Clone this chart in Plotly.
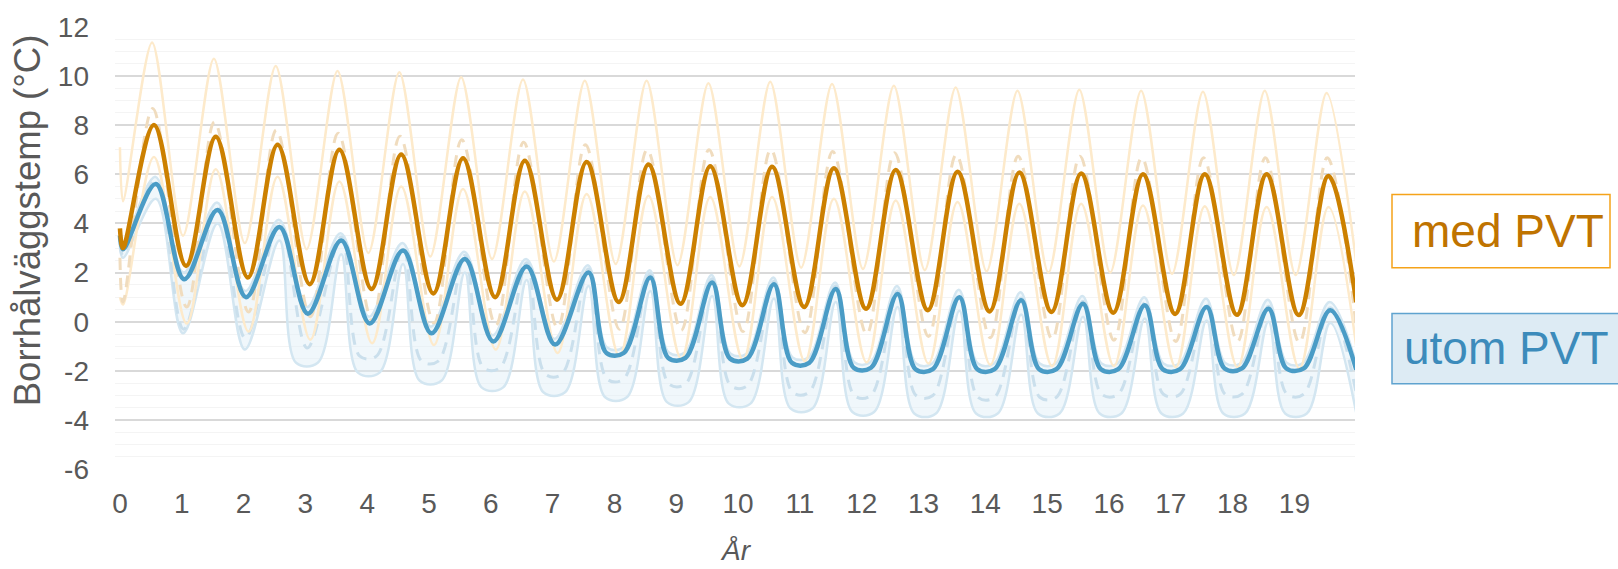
import plotly.graph_objects as go

years = list(range(20))
year_labels = [str(y) for y in years]
temp_ticks = list(range(-6, 13, 2))
temp_labels = [str(v) for v in temp_ticks]

# ---- Borehole wall temperature, "med PVT" (orange family) ----
med_start, med_end = 3.8, 0.8
med_trough = [3.0, 2.27, 1.8, 1.53, 1.33, 1.15, 1.0, 0.9, 0.8, 0.73,
              0.67, 0.6, 0.53, 0.47, 0.42, 0.4, 0.37, 0.32, 0.28, 0.27]
med_peak = [8.0, 7.53, 7.2, 7.0, 6.8, 6.65, 6.55, 6.5, 6.4, 6.33,
            6.3, 6.24, 6.17, 6.1, 6.07, 6.03, 6.0, 6.0, 6.0, 5.93]

med_hi_start, med_hi_end = 7.1, 2.4
med_hi_trough = [4.9, 3.5, 3.2, 2.95, 2.8, 2.65, 2.55, 2.45, 2.35, 2.3,
                 2.25, 2.2, 2.15, 2.1, 2.05, 2.0, 2.0, 1.95, 1.9, 1.9]
med_hi_peak = [11.36, 10.7, 10.4, 10.2, 10.15, 9.95, 9.85, 9.8, 9.8, 9.7,
               9.76, 9.67, 9.6, 9.53, 9.4, 9.44, 9.4, 9.36, 9.4, 9.3]

med_lo_start, med_lo_end = 1.0, -1.0
med_lo_trough = [0.7, -0.07, -0.4, -0.73, -0.87, -0.95, -1.13, -1.27, -1.4, -1.5,
                 -1.55, -1.6, -1.65, -1.7, -1.75, -1.8, -1.8, -1.85, -1.85, -1.9]
med_lo_peak = [6.7, 6.2, 5.9, 5.7, 5.5, 5.4, 5.3, 5.2, 5.13, 5.07,
               5.07, 5.0, 4.93, 4.87, 4.8, 4.8, 4.73, 4.7, 4.67, 4.67]

med_alt_start, med_alt_end = 2.6, -0.2
med_alt_trough = [0.8, 0.6, 0.4, 0.2, 0.05, -0.05, -0.15, -0.25, -0.3, -0.35,
                  -0.4, -0.45, -0.5, -0.6, -0.65, -0.7, -0.75, -0.8, -0.8, -0.85]
med_alt_peak = [8.67, 8.13, 7.8, 7.67, 7.55, 7.4, 7.3, 7.2, 7.0, 7.0,
                7.0, 6.93, 6.87, 6.8, 6.73, 6.73, 6.67, 6.67, 6.67, 6.67]

# ---- Borehole wall temperature, "utom PVT" (blue family) ----
utom_start, utom_end = 3.5, -1.95
utom_trough = [2.95, 1.73, 1.0, 0.33, -0.07, -0.47, -0.8, -0.93, -1.27, -1.47,
               -1.5, -1.67, -1.87, -1.93, -1.93, -1.93, -1.93, -1.93, -1.9, -1.9]
utom_peak = [5.6, 4.55, 3.85, 3.3, 2.9, 2.55, 2.25, 2.0, 1.8, 1.6,
             1.53, 1.33, 1.13, 1.0, 0.87, 0.73, 0.67, 0.6, 0.53, 0.47]

utom_hi_start, utom_hi_end = 3.6, -1.7
utom_hi_trough = [3.15, 2.0, 1.25, 0.6, 0.2, -0.2, -0.55, -0.7, -1.05, -1.25,
                  -1.3, -1.45, -1.65, -1.7, -1.7, -1.7, -1.7, -1.7, -1.68, -1.68]
utom_hi_peak = [5.9, 4.85, 4.15, 3.6, 3.2, 2.85, 2.55, 2.3, 2.1, 1.9,
                1.8, 1.6, 1.45, 1.3, 1.2, 1.05, 1.0, 0.95, 0.9, 0.8]

utom_lo_start, utom_lo_end = 3.0, -3.7
utom_lo_trough = [2.6, -0.47, -1.13, -1.67, -2.07, -2.4, -2.67, -2.87, -3.07, -3.27,
                  -3.33, -3.53, -3.67, -3.73, -3.73, -3.73, -3.73, -3.73, -3.73, -3.73]
utom_lo_peak = [5.0, 4.0, 3.3, 2.75, 2.35, 2.0, 1.7, 1.45, 1.25, 1.05,
                0.95, 0.8, 0.6, 0.45, 0.3, 0.2, 0.13, 0.05, 0.0, -0.05]

utom_alt_start, utom_alt_end = 3.2, -2.9
utom_alt_trough = [2.7, -0.3, -0.67, -1.07, -1.4, -1.6, -1.87, -2.13, -2.33, -2.53,
                   -2.6, -2.87, -3.0, -3.0, -3.07, -3.07, -2.95, -2.95, -2.95, -2.95]
utom_alt_peak = [5.75, 4.7, 4.0, 3.45, 3.05, 2.7, 2.4, 2.15, 1.95, 1.75,
                 1.65, 1.45, 1.25, 1.1, 0.97, 0.83, 0.77, 0.7, 0.63, 0.57]


def seasonal(start, troughs, peaks, end, t_trough, t_peak, flat=None, flat_from=1):
    """Yearly cycle through trough/peak readings (time in years).

    From year `flat_from` on, the winter minimum is held over the span `flat`.
    """
    xs, ys = [0.0], [start]
    for k in years:
        if k == 0:
            xs.append(0.05)
            ys.append(troughs[0])
        elif flat and k >= flat_from:
            xs += [k + flat[0], k + flat[1]]
            ys += [troughs[k], troughs[k]]
        else:
            xs.append(k + t_trough)
            ys.append(troughs[k])
        xs.append(k + t_peak)
        ys.append(peaks[k])
    xs.append(20.0)
    ys.append(end)
    return xs, ys


ORANGE = "#CC8000"
BLUE = "#4A9CC6"
ORANGE_LIGHT = "#FDEACB"
ORANGE_DASH = "#F0DCBE"
BLUE_LIGHT = "#D3E6F1"
BLUE_DASH = "#CADFEC"
BLUE_FILL = "rgba(222,238,247,0.45)"

fig = go.Figure()


def add_line(xy, color, width, dash="solid", fill=None, fillcolor=None, smoothing=1.0):
    fig.add_trace(go.Scatter(
        x=xy[0], y=xy[1], mode="lines",
        line=dict(color=color, width=width, dash=dash, shape="spline", smoothing=smoothing),
        fill=fill, fillcolor=fillcolor, hoverinfo="skip", showlegend=False))


# blue band with its bounds
add_line(seasonal(utom_lo_start, utom_lo_trough, utom_lo_peak, utom_lo_end, 0.02, 0.58,
                  flat=(-0.15, 0.2), flat_from=3),
         BLUE_LIGHT, 2.5)
add_line(seasonal(utom_hi_start, utom_hi_trough, utom_hi_peak, utom_hi_end, 0.03, 0.57,
                  flat=(-0.12, 0.14), flat_from=8),
         BLUE_LIGHT, 2.5, fill="tonexty", fillcolor=BLUE_FILL)
add_line(seasonal(utom_alt_start, utom_alt_trough, utom_alt_peak, utom_alt_end, 0.03, 0.58,
                  flat=(-0.12, 0.15), flat_from=4),
         BLUE_DASH, 3, dash="12px,8px")

# orange bounds and alternative
add_line(seasonal(med_hi_start, med_hi_trough, med_hi_peak, med_hi_end, 0.02, 0.52),
         ORANGE_LIGHT, 2.5, smoothing=0.8)
add_line(seasonal(med_lo_start, med_lo_trough, med_lo_peak, med_lo_end, 0.08, 0.55),
         ORANGE_LIGHT, 2.5)
add_line(seasonal(med_alt_start, med_alt_trough, med_alt_peak, med_alt_end, 0.08, 0.53),
         ORANGE_DASH, 3, dash="12px,8px")

# main curves
add_line(seasonal(utom_start, utom_trough, utom_peak, utom_end, 0.04, 0.58,
                  flat=(-0.13, 0.15), flat_from=8),
         BLUE, 4.5)
add_line(seasonal(med_start, med_trough, med_peak, med_end, 0.07, 0.55),
         ORANGE, 4.5)

FONT = "Liberation Sans, Arial, sans-serif"
TICK = "#595959"

# plot area in pixels
PL, PR, PT, PB = 115, 1355, 22, 470

fig.update_layout(
    width=1618, height=569,
    margin=dict(l=PL, r=1618 - PR, t=PT, b=569 - PB),
    paper_bgcolor="white", plot_bgcolor="white",
    font=dict(family=FONT, color=TICK),
    xaxis=dict(range=[-0.08, 19.98], tickvals=years, ticktext=year_labels,
               showgrid=False, zeroline=False, showline=False, ticks="",
               tickfont=dict(size=28, color=TICK, family=FONT), ticklabelstandoff=14),
    yaxis=dict(range=[-6.03, 12.03], tickvals=temp_ticks, ticktext=temp_labels,
               showgrid=True, gridcolor="#D9D9D9", gridwidth=2,
               minor=dict(dtick=0.5, tick0=0, showgrid=True, gridcolor="#F4F4F4", gridwidth=1),
               zeroline=False, showline=False, ticks="",
               tickfont=dict(size=28, color=TICK, family=FONT), ticklabelstandoff=25),
)


def px_x(p):
    return (p - PL) / (PR - PL)


def px_y(p):
    return (PB - p) / (PB - PT)


# axis titles
fig.add_annotation(text="Borrhålväggstemp (°C)", xref="paper", yref="paper",
                   x=px_x(27), y=px_y(218), xanchor="center", yanchor="middle",
                   textangle=-90, showarrow=False, font=dict(size=36.5, color=TICK, family=FONT))
fig.add_annotation(text="<i>År</i>", xref="paper", yref="paper",
                   x=px_x(736), y=px_y(551), xanchor="center", yanchor="middle",
                   showarrow=False, font=dict(size=28, color=TICK, family=FONT))

# series labels: framed boxes with text
fig.add_shape(type="rect", xref="paper", yref="paper",
              x0=px_x(1392), x1=px_x(1610), y0=px_y(266), y1=px_y(192),
              line=dict(color="#F5A31A", width=1.5), fillcolor="white", layer="above")
fig.add_shape(type="rect", xref="paper", yref="paper",
              x0=px_x(1392), x1=px_x(1650), y0=px_y(383), y1=px_y(312),
              line=dict(color="#5FA3CF", width=1.5), fillcolor="#DDEBF4", layer="above")
fig.add_annotation(text="med PVT", xref="paper", yref="paper",
                   x=px_x(1410), y=px_y(229), xanchor="left", yanchor="middle",
                   showarrow=False, font=dict(size=46, color="#BF7300", family=FONT))
fig.add_annotation(text="utom PVT", xref="paper", yref="paper",
                   x=px_x(1402), y=px_y(347), xanchor="left", yanchor="middle",
                   showarrow=False, font=dict(size=46, color="#3C8BBB", family=FONT))

fig.write_html("out.html")
